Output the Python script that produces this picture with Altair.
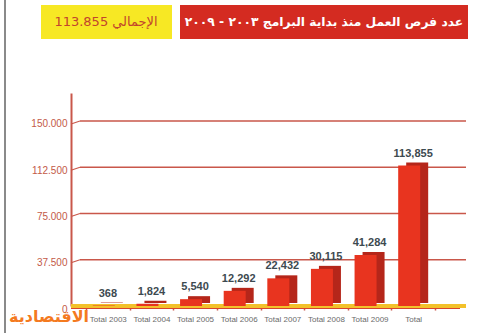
import altair as alt
import pandas as pd

categories = ["Total 2003", "Total 2004", "Total 2005", "Total 2006",
              "Total 2007", "Total 2008", "Total 2009", "Total"]
values = [368, 1824, 5540, 12292, 22432, 30115, 41284, 113855]
y_ticks = [37500, 75000, 112500, 150000]
title_text = "عدد فرص العمل منذ بداية البرامج ٢٠٠٣ - ٢٠٠٩"
total_text = "الإجمالي 113.855"
logo_text = "الاقتصادية"

df = pd.DataFrame({"cat": categories, "v": values})
ticks_df = pd.DataFrame({"v": y_ticks})
zero_df = pd.DataFrame({"v": [0]})
one = pd.DataFrame({"a": [0]})

W, H = 393, 213
yscale = alt.Scale(domain=[0, 172700], nice=False)
xscale = alt.Scale(domain=categories, range=[15, 364], paddingInner=0, paddingOuter=0)

RED = "#e8341f"
DARK = "#b5261a"
GRID = "#c9574a"

y_axis = alt.Axis(values=[0] + y_ticks, grid=False, ticks=False,
                  domainColor=GRID, domainWidth=2,
                  labelColor="#c35a48", labelFont="Liberation Sans", labelFontSize=10,
                  labelPadding=4, labelOffset=3,
                  labelExpr="replace(format(datum.value, ','), ',', '.')")
x_axis = alt.Axis(labelAngle=0, labelFont="Liberation Sans", labelFontSize=8,
                  labelColor="#6a6a6a", labelPadding=5, domain=False,
                  tickColor=GRID, tickSize=4, tickWidth=1.5, tickBand="extent")

grid = alt.Chart(ticks_df).mark_rule(color=GRID, strokeWidth=1.3).encode(
    y=alt.Y("v:Q", scale=yscale, title=None, axis=y_axis),
    x=alt.value(9), x2=alt.value(W + 2),
)
conn = alt.Chart(ticks_df).mark_rule(color=GRID, strokeWidth=1.3, yOffset=3).encode(
    y=alt.Y("v:Q", scale=yscale, title=None, axis=y_axis),
    y2="v:Q",
    x=alt.value(0), x2=alt.value(9),
)
floor = alt.Chart(zero_df).mark_rule(color="#f3c12a", strokeWidth=4).encode(
    y=alt.Y("v:Q", scale=yscale, title=None, axis=y_axis),
    x=alt.value(0), x2=alt.value(W + 2),
)
floor_red = alt.Chart(zero_df).mark_rule(color="#d8452e", strokeWidth=1, yOffset=2.5).encode(
    y=alt.Y("v:Q", scale=yscale, title=None, axis=y_axis),
    x=alt.value(0), x2=alt.value(W - 4),
)

back = alt.Chart(df).mark_bar(color=DARK, size=22, xOffset=4, yOffset=-3).encode(
    x=alt.X("cat:N", scale=xscale, sort=categories, title=None, axis=x_axis),
    y=alt.Y("v:Q", scale=yscale, title=None, axis=y_axis),
)
front = alt.Chart(df).mark_bar(color=RED, size=22, xOffset=-4).encode(
    x=alt.X("cat:N", scale=xscale, sort=categories, title=None, axis=x_axis),
    y=alt.Y("v:Q", scale=yscale, title=None, axis=y_axis),
)
labels = alt.Chart(df).mark_text(baseline="bottom", dy=-7, fontWeight="bold", fontSize=11,
                                 font="Liberation Sans", color="#3d4a50").encode(
    x=alt.X("cat:N", scale=xscale, sort=categories, title=None, axis=x_axis),
    y=alt.Y("v:Q", scale=yscale, title=None, axis=y_axis),
    text=alt.Text("v:Q", format=","),
)

frame = alt.Chart(one).mark_rule(color="#8a8a8a", strokeWidth=2).encode(
    x=alt.value(-66), y=alt.value(-93), y2=alt.value(H + 27),
)
red_box = alt.Chart(one).mark_rect(color="#d42b21").encode(
    x=alt.value(109), x2=alt.value(397), y=alt.value(-88), y2=alt.value(-54),
)
yellow_box = alt.Chart(one).mark_rect(color="#f7e824").encode(
    x=alt.value(-30), x2=alt.value(101), y=alt.value(-88), y2=alt.value(-54),
)
title = alt.Chart(one).mark_text(color="white", fontSize=12.3, fontWeight="bold",
                                 font="DejaVu Sans").encode(
    x=alt.value(253), y=alt.value(-71), text=alt.value(title_text),
)
total = alt.Chart(one).mark_text(color="#c2452c", fontSize=13,
                                 font="DejaVu Sans").encode(
    x=alt.value(35), y=alt.value(-71), text=alt.value(total_text),
)
logo = alt.Chart(one).mark_text(color="#f47a1f", fontSize=16, fontWeight="bold",
                                font="DejaVu Sans").encode(
    x=alt.value(-22), y=alt.value(224), text=alt.value(logo_text),
)

chart = alt.layer(
    grid, conn, floor, floor_red, back, front, labels,
    frame, red_box, yellow_box, title, total, logo,
).properties(
    width=W, height=H,
    padding={"left": 71, "top": 93, "right": 36, "bottom": 27},
    autosize=alt.AutoSizeParams(type="none"),
    background="white",
).configure_view(stroke=None)

chart.save("out.html", embed_options={"renderer": "svg", "actions": False})
